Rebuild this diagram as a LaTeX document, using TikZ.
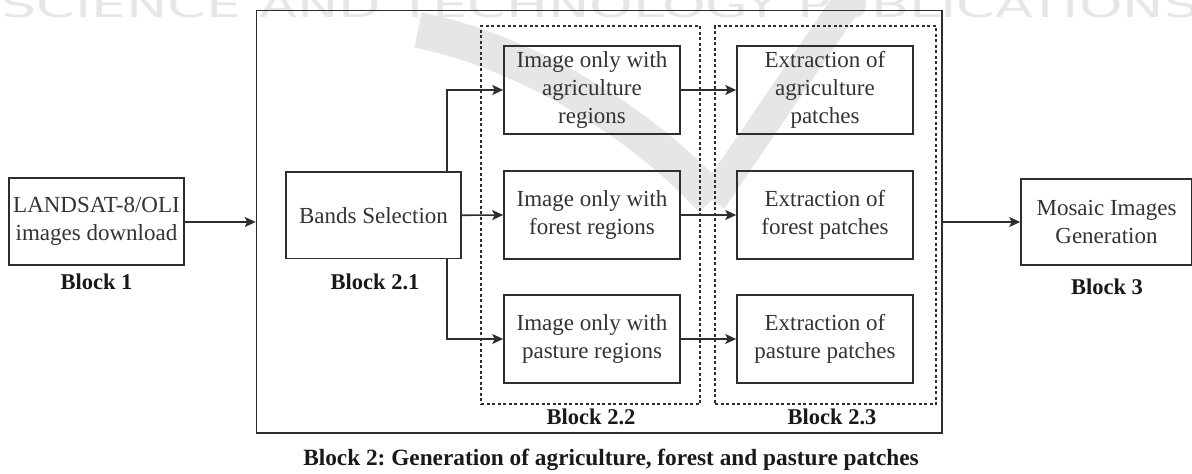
\documentclass[tikz,border=0pt]{standalone}
\usepackage{fontspec}
\setmainfont{Liberation Serif}
\newfontfamily\wmfont{DejaVu Sans}
\usetikzlibrary{arrows.meta,positioning,calc}
\definecolor{lc}{HTML}{2E2E2E}
\definecolor{tc}{HTML}{333333}
\definecolor{wm}{HTML}{E6E6E6}
\frenchspacing
\tikzset{
  box/.style={draw=lc, line width=1.6pt, align=center, text=tc, inner sep=0pt,
    font=\fontsize{23}{28}\selectfont, minimum width=176pt, minimum height=88pt},
  grp/.style={draw=lc, line width=1.4pt, dash pattern=on 3pt off 2.5pt, inner sep=0pt},
  outerbox/.style={draw=lc, line width=1.6pt, inner sep=0pt},
  lbl/.style={font=\fontsize{22.5}{27}\selectfont\bfseries, text=black!90, inner sep=0pt},
  arr/.style={draw=lc, line width=1.6pt, -{Stealth[length=11pt,width=10pt,inset=2.5pt]}}
}
\begin{document}
\begin{tikzpicture}[x=1pt,y=-1pt]
\useasboundingbox (0,0) rectangle (1192,474);
% watermark
\begin{scope}
\clip (0,0) rectangle (1192,474);
\draw[wm, line width=36pt] (418,30) .. controls (520,50) and (640,120) .. (712,200);
\draw[wm, line width=30pt] (712,200) -- (852,-5);
\node[anchor=base west, inner sep=0pt, text=wm, font=\fontsize{34}{34}\wmfont] (wmtext) at (1,17)
  {\scalebox{1.63}[1]{SCIENCE AND TECHNOLOGY PUBLICATIONS}};
\end{scope}
% outer block 2
\node[outerbox, minimum width=685.5pt, minimum height=422.5pt] (outer) at (599.25,221.75) {};
\node[grp, minimum width=219pt, minimum height=378pt] (g22) at (590.5,215) {};
\node[grp, minimum width=221pt, minimum height=378pt] (g23) at (825.5,215) {};
% boxes
\node[box, minimum width=175pt, minimum height=87pt] (land) at (96.5,221.5) {LANDSAT-8/OLI\\images download};
\node[box, minimum width=175pt, minimum height=86.5pt] (bands) at (373.5,215.25) {Bands Selection};
\node[box] (imgA) at (592,90) {Image only with\\agriculture\\regions};
\node[box] (imgF) at (592,215) {Image only with\\forest regions};
\node[box] (imgP) at (592,339) {Image only with\\pasture regions};
\node[box] (extA) at (825,90) {Extraction of\\agriculture\\patches};
\node[box] (extF) at (825,215) {Extraction of\\forest patches};
\node[box] (extP) at (825,339) {Extraction of\\pasture patches};
\node[box, minimum width=171pt, minimum height=86pt] (mos) at (1106.5,222) {Mosaic Images\\Generation};
% labels
\node[lbl] (l1) at (96.5,282) {Block 1};
\node[lbl] (l21) at (375,282) {Block 2.1};
\node[lbl] (l22) at (591,417) {Block 2.2};
\node[lbl] (l23) at (832,417) {Block 2.3};
\node[lbl] (l3) at (1107,287) {Block 3};
\node[lbl, font=\fontsize{23.3}{27}\selectfont\bfseries] (cap) at (611,460) {Block 2: Generation of agriculture, forest and pasture patches};
% connectors
\draw[arr] (land.east |- 0,222) -- (outer.west |- 0,222);
\draw[arr] (bands.east) -- (imgF.west);
\draw[arr] ([xshift=-15pt]bands.north east) |- (imgA.west);
\draw[arr] ([xshift=-15pt]bands.south east) |- (imgP.west);
\draw[arr] (imgA) -- (extA);
\draw[arr] (imgF) -- (extF);
\draw[arr] (imgP) -- (extP);
\draw[arr] (outer.east |- mos.west) -- (mos.west);
\end{tikzpicture}
\end{document}
